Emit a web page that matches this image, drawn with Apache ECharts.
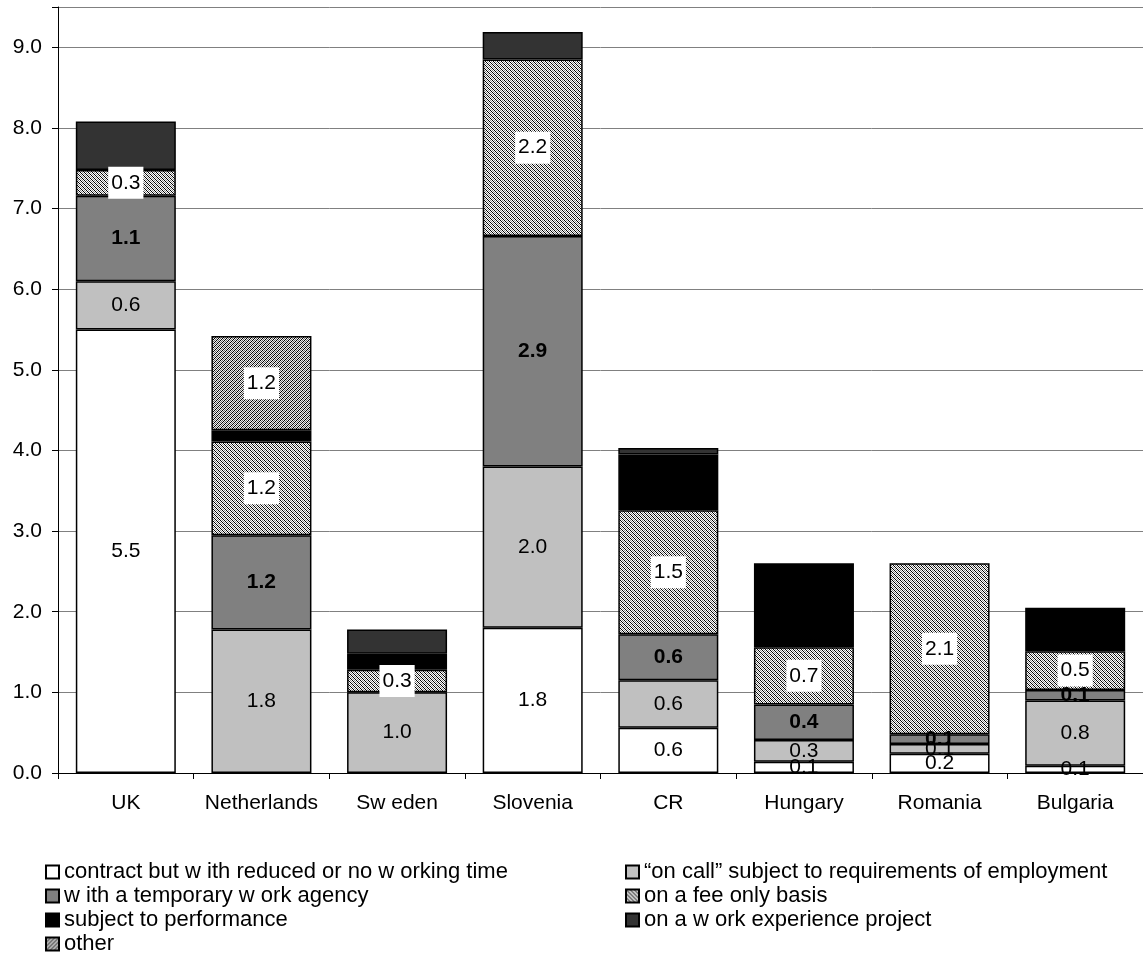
<!DOCTYPE html>
<html>
<head>
<meta charset="utf-8">
<script src="https://cdn.jsdelivr.net/npm/echarts@6/dist/echarts.min.js"></script>
<style>
  html, body { margin: 0; padding: 0; background: #fff; }
  #chart { width: 1143px; height: 955px; }
</style>
</head>
<body>
<div id="chart"></div>
<script>
// Countries along the x axis
const countries = ['UK', 'Netherlands', 'Sw eden', 'Slovenia', 'CR', 'Hungary', 'Romania', 'Bulgaria'];

// Series names (stack order, bottom to top)
const seriesNames = [
  'contract but w ith reduced or no w orking time',
  '\u201Con call\u201D subject to requirements of employment',
  'w ith a temporary w ork agency',
  'on a fee only basis',
  'subject to performance',
  'on a w ork experience project',
  'other'
];

// Values per series, one entry per country
const contractReduced = [5.5, 0, 0, 1.8, 0.56, 0.14, 0.24, 0.09];
const onCall          = [0.6, 1.78, 1.0, 2.0, 0.59, 0.27, 0.12, 0.81];
const tempAgency      = [1.06, 1.17, 0, 2.86, 0.57, 0.44, 0.12, 0.13];
const feeOnly         = [0.32, 1.16, 0.28, 2.19, 1.54, 0.71, 2.12, 0.48];
const performance     = [0, 0.14, 0.2, 0, 0.69, 1.04, 0, 0.54];
const workExperience  = [0.6, 0, 0.3, 0.34, 0.08, 0, 0, 0];
const other           = [0, 1.17, 0, 0, 0, 0, 0, 0];

// Y axis settings
const yMin = 0, yMax = 9.5, yStep = 1;

const FONT = '"Liberation Sans", Arial, sans-serif';
const FS = 21;        // axis and data labels
const FS_LEGEND = 22; // legend entries

// Fine hatch fills drawn on a tiny canvas tile
function hatch(dir, c1, c2, bg) {
  const c = document.createElement('canvas');
  c.width = 4; c.height = 4;
  const g = c.getContext('2d');
  g.fillStyle = bg; g.fillRect(0, 0, 4, 4);
  for (let y = 0; y < 4; y++) {
    for (let x = 0; x < 4; x++) {
      const k = dir > 0 ? (x + y) % 4 : ((x - y) % 4 + 4) % 4;
      if (k === 0) { g.fillStyle = c1; g.fillRect(x, y, 1, 1); }
      if (k === 2) { g.fillStyle = c2; g.fillRect(x, y, 1, 1); }
    }
  }
  return { image: c, repeat: 'repeat' };
}

const feePattern = hatch(-1, '#000000', '#8a8a8a', '#ffffff');
const otherPattern = hatch(1, '#000000', '#6a6a6a', '#f0f0f0');

const values = [contractReduced, onCall, tempAgency, feeOnly, performance, workExperience, other];
const fills = ['#ffffff', '#c0c0c0', '#808080', feePattern, '#000000', '#333333', otherPattern];

const fmt = p => (p.value ? Number(p.value).toFixed(1) : '');

const base = { show: true, fontSize: FS, color: '#000', fontFamily: FONT };
const boxed = Object.assign({}, base, { backgroundColor: '#fff', padding: [6, 3, 5, 3] });
const labelStyles = [
  base,
  base,
  Object.assign({}, base, { fontWeight: 'bold' }),
  boxed,
  { show: false },
  { show: false },
  boxed
];

const series = seriesNames.map((name, i) => ({
  name,
  type: 'bar',
  stack: 'total',
  barWidth: 100,
  data: values[i].map(v => (v ? v : '-')),
  itemStyle: { color: fills[i], borderColor: '#000', borderWidth: 1.5 },
  label: Object.assign({ position: 'inside', formatter: fmt }, labelStyles[i]),
  emphasis: { disabled: true },
  animation: false
}));

// Legend laid out in two columns, filled row by row
const legendPos = [
  [45, 861], [625, 861],
  [45, 885], [625, 885],
  [45, 909], [625, 909],
  [45, 933]
];
const legends = seriesNames.map((name, i) => ({
  left: legendPos[i][0],
  top: legendPos[i][1],
  data: [name],
  icon: 'rect',
  itemWidth: 13,
  itemHeight: 13,
  padding: 0,
  selectedMode: false,
  textStyle: { fontSize: FS_LEGEND, lineHeight: 22, color: '#000', fontFamily: FONT }
}));

const chart = echarts.init(document.getElementById('chart'), null, { renderer: 'canvas' });
chart.setOption({
  backgroundColor: '#ffffff',
  animation: false,
  textStyle: { fontFamily: FONT },
  grid: { left: 58, top: 7, right: -9, bottom: 182, containLabel: false },
  legend: legends,
  xAxis: {
    type: 'category',
    data: countries,
    axisLine: { lineStyle: { color: '#000', width: 1 } },
    axisTick: { show: true, length: 6, alignWithLabel: false, interval: 0, lineStyle: { color: '#000' } },
    axisLabel: { interval: 0, margin: 20, fontSize: FS, color: '#000', fontFamily: FONT },
    splitLine: { show: false }
  },
  yAxis: {
    type: 'value',
    min: yMin,
    max: yMax,
    interval: yStep,
    axisLine: { show: true, lineStyle: { color: '#000', width: 1 } },
    axisTick: { show: true, length: 6, lineStyle: { color: '#000' } },
    axisLabel: {
      margin: 16, fontSize: FS, color: '#000', fontFamily: FONT,
      formatter: v => (v > 9.01 ? '' : v.toFixed(1))
    },
    splitLine: { show: true, lineStyle: { color: '#808080', width: 1 } }
  },
  series
});
</script>
</body>
</html>
